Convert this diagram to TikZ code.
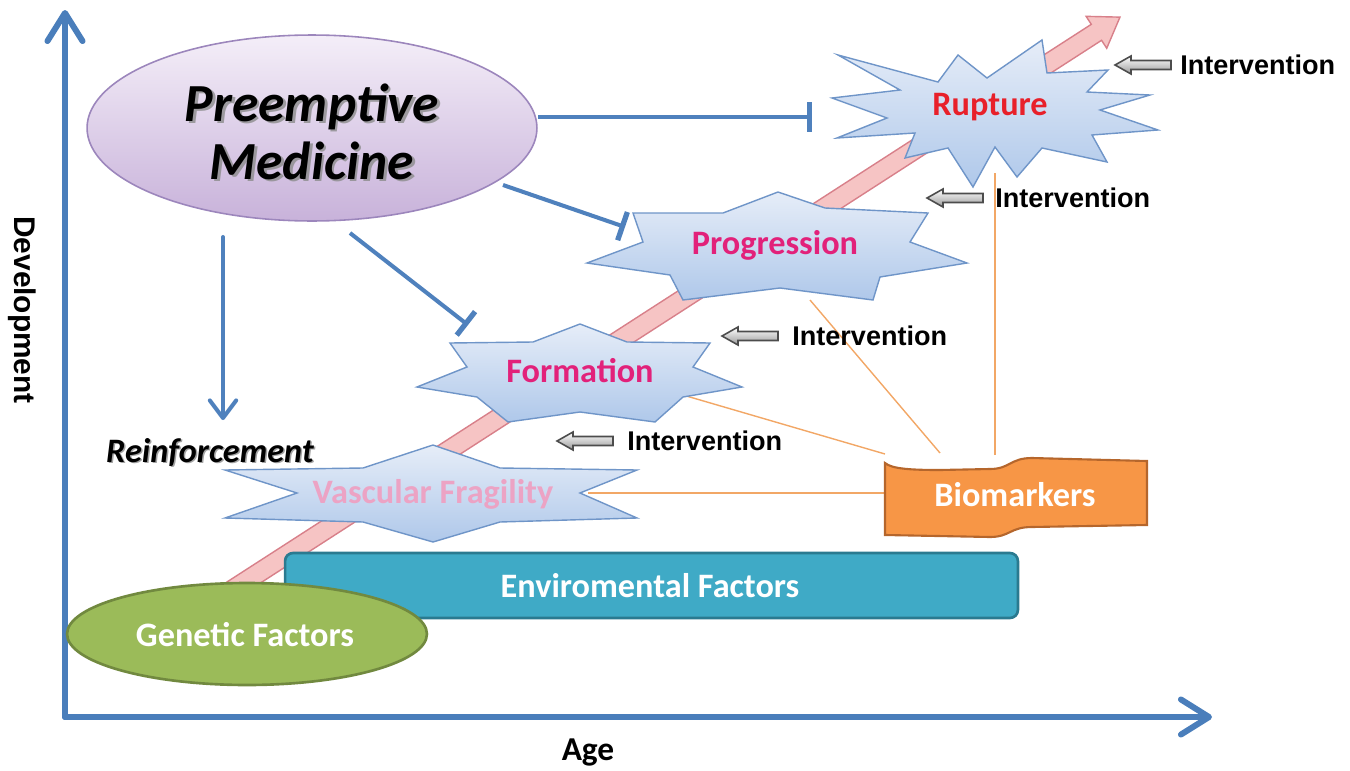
\documentclass[tikz,border=0pt]{standalone}
\usepackage{fontspec}
\setmainfont{Carlito}
\newfontfamily\arialf{Liberation Sans}
\usetikzlibrary{arrows.meta,shapes.geometric}
\definecolor{axisblue}{HTML}{4A7EBB}
\definecolor{connblue}{HTML}{4F81BD}
\definecolor{starTop}{HTML}{E6EDF8}
\definecolor{starBot}{HTML}{AFC8EA}
\definecolor{starLine}{HTML}{6F95C8}
\definecolor{pinkFill}{HTML}{F6C4C4}
\definecolor{pinkLine}{HTML}{D8808A}
\definecolor{orangeLine}{HTML}{F2A766}
\definecolor{bioFill}{HTML}{F79646}
\definecolor{bioLine}{HTML}{B5662C}
\definecolor{envFill}{HTML}{3FAAC6}
\definecolor{envLine}{HTML}{2A7A90}
\definecolor{genFill}{HTML}{9BBB59}
\definecolor{genLine}{HTML}{71893F}
\definecolor{pmTop}{HTML}{F4EEF8}
\definecolor{pmBot}{HTML}{C8B2DA}
\definecolor{pmLine}{HTML}{9C86BC}
\definecolor{rupRed}{HTML}{E8202A}
\definecolor{magentaTxt}{HTML}{E2217A}
\definecolor{vfTxt}{HTML}{ECA3C4}
\begin{document}
\begin{tikzpicture}[x=0.02cm,y=-0.02cm,
  lbl/.style={font=\bfseries\fontsize{19.5}{23}\selectfont, inner sep=0pt},
  starshape/.style={draw=starLine, line width=0.8pt, top color=starTop, bottom color=starBot},
  blueline/.style={draw=connblue, line width=2.3pt},
  tee/.style={blueline, -{Bar[width=17pt, line width=3pt 0]}},
  axis/.style={draw=axisblue, line width=3.4pt, line cap=round, -{Straight Barb[length=16pt,width=20pt,round]}},
  intv/.style={font=\arialf\bfseries\fontsize{15.4}{18}\selectfont, anchor=west, inner sep=0pt},
  orangeln/.style={draw=orangeLine, line width=0.8pt},
  shadowtxt/.style={text=black!45, opacity=0.8},
  intarrow/.pic={\draw[draw=black!70, line width=0.9pt, top color=white, bottom color=black!40]
     (0,0) -- (16,-9) -- (16,-4.5) -- (56,-4.5) -- (56,4.5) -- (16,4.5) -- (16,9) -- cycle;}
]
\useasboundingbox (0,0) rectangle (1350,771);

% axes
\coordinate (O) at (65,717);
\coordinate (Ytop) at (65,10);
\coordinate (Xend) at (1212,717);
\draw[axis] (O) -- (Ytop);
\draw[axis] (O) -- (Xend);
\node[rotate=-90, font=\arialf\bfseries\fontsize{17}{20}\selectfont] (dev) at (22,310) {Development};
\node[font=\bfseries\fontsize{19}{22}\selectfont] (age) at (588,752) {Age};

% pink development arrow
\begin{scope}[shift={(215,601)}, rotate=32.83]
\filldraw[draw=pinkLine, line width=0.8pt, fill=pinkFill]
  (0,-9.5) -- (1049,-9.5) -- (1049,-19) -- (1077,0) -- (1049,19) -- (1049,9.5) -- (0,9.5) -- cycle;
\end{scope}

% orange biomarker lines (behind shapes)
\coordinate (bmA) at (885,454);
\coordinate (bmB) at (940,453);
\coordinate (bmC) at (995,455);
\coordinate (bmD) at (885,493);
\coordinate (formR) at (683,395);
\coordinate (progB) at (810,300);
\coordinate (rupB) at (995,173);
\coordinate (vfR) at (588,493);
\draw[orangeln] (bmA) -- (formR);
\draw[orangeln] (bmB) -- (progB);
\draw[orangeln] (bmC) -- (rupB);
\draw[orangeln] (bmD) -- (vfR);

% Rupture explosion
\path[starshape] (838,55) -- (938,82) -- (958,55) -- (987,78) -- (1042,40) -- (1047,73) -- (1108,70)
  -- (1087,92) -- (1150,95) -- (1100,110) -- (1158,130) -- (1092,135) -- (1107,162) -- (1042,148)
  -- (1017,177) -- (995,147) -- (973,187) -- (948,148) -- (905,158) -- (915,133) -- (837,138)
  -- (887,118) -- (832,98) -- (900,90) -- cycle;
\node[lbl, text=rupRed] (rup) at (990,107) {Rupture};

% Progression star
\path[starshape] (587,263) -- (643,242) -- (633,213) -- (723,213) -- (778,192) -- (825,208) -- (928,213)
  -- (910,242) -- (967,263) -- (880,277) -- (873,300) -- (780,288) -- (683,300) -- (670,275) -- cycle;
\node[lbl, text=magentaTxt] (prog) at (775,245) {Progression};

% Formation star
\path[starshape] (417,387) -- (467,367) -- (450,343) -- (533,342) -- (580,324) -- (627,342) -- (710,343)
  -- (693,367) -- (742,387) -- (683,397) -- (655,422) -- (580,412) -- (508,422) -- (477,397) -- cycle;
\node[lbl, text=magentaTxt] (form) at (580,371) {Formation};

% Vascular fragility star
\path[starshape] (225,470) -- (363,468) -- (433,445) -- (500,468) -- (637,470) -- (580,493) -- (637,518)
  -- (500,522) -- (433,542) -- (363,522) -- (225,518) -- (297,493) -- cycle;
\node[lbl, text=vfTxt] (vf) at (433,494) {Vascular Fragility};

% Biomarkers banner
\path[draw=bioLine, line width=1.2pt, fill=bioFill]
  (885,463) .. controls (892,469) and (912,470) .. (940,470) -- (990,469)
  .. controls (1010,469) and (1010,458) .. (1032,458) -- (1147,461) -- (1147,525)
  -- (1032,527) .. controls (1010,527) and (1010,537) .. (990,537) -- (885,535) -- cycle;
\node[lbl, text=white] (bio) at (1015,495) {Biomarkers};

% Environmental factors
\node[draw=envLine, line width=1.5pt, fill=envFill, rounded corners=0.16cm,
  minimum width=14.66cm, minimum height=1.3cm] (envbox) at (651.5,585.5) {};
\node[lbl, text=white] (env) at (650,586) {Enviromental Factors};

% Genetic factors
\node[ellipse, draw=genLine, line width=1.5pt, fill=genFill,
  minimum width=7.2cm, minimum height=2.04cm] (gen) at (247,634) {};
\node[lbl, text=white] (gentxt) at (245,635) {Genetic Factors};

% Preemptive medicine
\node[ellipse, draw=pmLine, line width=0.9pt, top color=pmTop, bottom color=pmBot,
  minimum width=9cm, minimum height=3.72cm] (pm) at (312,128) {};
\node[align=center, shadowtxt, font=\bfseries\itshape\fontsize{30.5}{33}\selectfont] (pmsh) at (314.5,134) {Preemptive\\Medicine};
\node[align=center, font=\bfseries\itshape\fontsize{30.5}{33}\selectfont] (pmtxt) at (312,131.5) {Preemptive\\Medicine};

% Reinforcement
\node[shadowtxt, font=\bfseries\itshape\fontsize{19.5}{23}\selectfont] (reinsh) at (211.5,453.5) {Reinforcement};
\node[font=\bfseries\itshape\fontsize{19.5}{23}\selectfont] (rein) at (210,452) {Reinforcement};

% connectors from preemptive medicine
\coordinate (s1) at (538,117);
\coordinate (tRup) at (812,117);
\coordinate (s2) at (503,185);
\coordinate (tProg) at (625,227);
\coordinate (s3) at (350,233);
\coordinate (tForm) at (468,325);
\coordinate (sDown) at (223,237);
\coordinate (tDown) at (223,420);
\draw[tee] (s1) -- (tRup);
\draw[tee] (s2) -- (tProg);
\draw[tee] (s3) -- (tForm);
\draw[blueline, line cap=round, -{Straight Barb[length=10pt,width=15pt,round]}] (sDown) -- (tDown);

% interventions
\pic at (1115,65) {intarrow};
\node[intv] (iv1) at (1180,65) {Intervention};
\pic at (927,198) {intarrow};
\node[intv] (iv2) at (995,198) {Intervention};
\pic at (722,336) {intarrow};
\node[intv] (iv3) at (792,336) {Intervention};
\pic at (557,441) {intarrow};
\node[intv] (iv4) at (627,441) {Intervention};
\end{tikzpicture}
\end{document}
